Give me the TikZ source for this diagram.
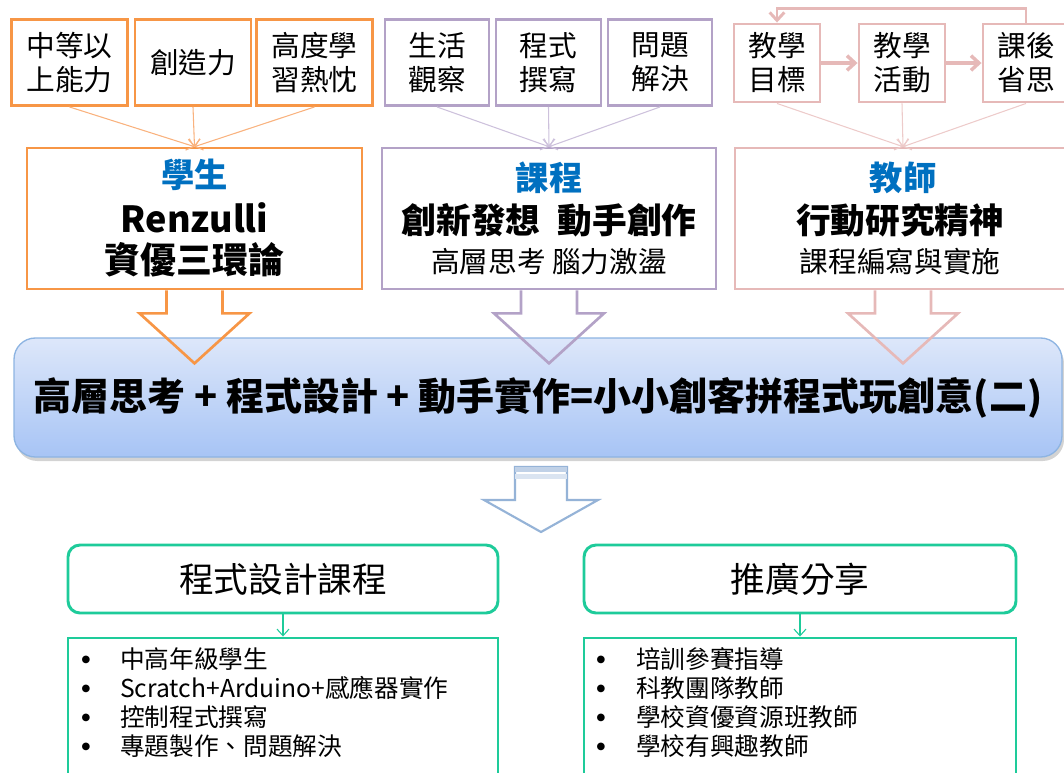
\documentclass[tikz,border=0pt]{standalone}
\usepackage{fontspec}
\setmainfont{Noto Sans CJK TC}
\newfontfamily\bulletfont{DejaVu Sans}
\usetikzlibrary{arrows.meta,shadows,calc}
\definecolor{cOrange}{HTML}{F79646}
\definecolor{cOrangeL}{HTML}{F9B27E}
\definecolor{cPurple}{HTML}{B3A2C7}
\definecolor{cPurpleL}{HTML}{CDC1DC}
\definecolor{cPink}{HTML}{E6B9B8}
\definecolor{cPinkL}{HTML}{EDCBCA}
\definecolor{cTitle}{HTML}{0070C0}
\definecolor{cGreen}{HTML}{1ECB9A}
\definecolor{cBlueB}{HTML}{8DB4E2}
\definecolor{cBlueT}{HTML}{DDE7FA}
\definecolor{cBlueBot}{HTML}{A7C4F5}
\definecolor{cBArrow}{HTML}{95B3D7}
\begin{document}
\begin{tikzpicture}[x=0.75pt,y=-0.75pt,
  sz/.style 2 args={minimum width=#1*0.75pt, minimum height=#2*0.75pt},
  topbox/.style={draw=#1, line width=2.2pt, fill=white, align=center, inner sep=0pt,
     font=\fontsize{21.5}{25.5}\selectfont},
  midbox/.style={draw=#1, line width=2pt, fill=white, inner sep=0pt},
  ttl/.style={text=cTitle, font=\fontsize{25}{30}\selectfont\bfseries},
  bigb/.style={font=\fontsize{26}{30}\selectfont\bfseries},
  sub/.style={font=\fontsize{21.5}{26}\selectfont},
  thinarr/.style={draw=#1, line width=0.8pt, -{Straight Barb[length=5pt,width=9pt]}},
  blockarrow/.style={draw=#1, line width=2pt, line join=miter},
  greenhead/.style={draw=cGreen, line width=2.2pt, rounded corners=9pt, fill=white,
     font=\fontsize{26}{30}\selectfont},
  greenlist/.style={draw=cGreen, line width=2.2pt, fill=white},
  item/.style={anchor=west, inner sep=0pt, font=\fontsize{18.5}{22}\selectfont},
  bul/.style={inner sep=0pt, font=\bulletfont\fontsize{7.5}{9}\selectfont},
]
\useasboundingbox (0,0) rectangle (1064,772);
\begin{scope}
\clip (0,0) rectangle (1064,772);

% ---------- top boxes ----------
\node[topbox=cOrange, sz={116}{86}] (ob1) at (69.5,62.5) {中等以\\上能力};
\node[topbox=cOrange, sz={116}{86}] (ob2) at (193,62.5) {創造力};
\node[topbox=cOrange, sz={116}{86}] (ob3) at (314.5,62.5) {高度學\\習熱忱};

\node[topbox=cPurple, sz={104}{86}] (pb1) at (437,62.5) {生活\\觀察};
\node[topbox=cPurple, sz={105}{86}] (pb2) at (548.5,62.5) {程式\\撰寫};
\node[topbox=cPurple, sz={104}{86}] (pb3) at (660,62.5) {問題\\解決};

\node[topbox=cPink, sz={86}{78}] (kb1) at (777,63) {教學\\目標};
\node[topbox=cPink, sz={86}{78}] (kb2) at (902,63) {教學\\活動};
\node[topbox=cPink, sz={86}{78}] (kb3) at (1026,63) {課後\\省思};

\draw[draw=cPink, line width=2.6pt, -{Straight Barb[length=6pt,width=11pt]}] (kb1.east) -- (kb2.west);
\draw[draw=cPink, line width=2.6pt, -{Straight Barb[length=6pt,width=11pt]}] (kb2.east) -- (kb3.west);
\draw[draw=cPink, line width=2.2pt, -{Straight Barb[length=6pt,width=11pt]}] (kb3.north) -- ++(0,-14) -| (kb1.north);

% ---------- middle boxes ----------
\node[midbox=cOrange, sz={335}{141}] (om) at (194.5,218.5) {};
\node[midbox=cPurple, sz={334}{141}] (pm) at (549,218.5) {};
\node[midbox=cPink, sz={336}{141}] (km) at (903,218.5) {};

\node[ttl] (omt) at (194.5,175) {學生};
\node[bigb, font=\fontsize{27}{30}\selectfont\bfseries] (oma) at (194.5,218) {Renzulli};
\node[bigb, font=\fontsize{27}{30}\selectfont\bfseries] (omb) at (194.5,260) {資優三環論};

\node[ttl] (pmt) at (549,178) {課程};
\node[bigb] (pma) at (549,220) {創新發想\hspace{0.5em}動手創作};
\node[sub] (pmb) at (549,262) {高層思考 腦力激盪};

\node[ttl] (kmt) at (903,178) {教師};
\node[bigb] (kma) at (900,220) {行動研究精神};
\node[sub] (kmb) at (900,262) {課程編寫與實施};

\foreach \b in {ob1,ob2,ob3} \draw[thinarr=cOrangeL] (\b.south) -- (om.north);
\foreach \b in {pb1,pb2,pb3} \draw[thinarr=cPurpleL] (\b.south) -- (pm.north);
\foreach \b in {kb1,kb2,kb3} \draw[thinarr=cPinkL] (\b.south) -- (km.north);

% ---------- main blue box ----------
\node[draw=cBlueB, line width=1pt, rounded corners=16pt, top color=cBlueT, bottom color=cBlueBot,
      drop shadow={shadow xshift=1.5pt, shadow yshift=-3pt, opacity=0.35},
      sz={1048}{119}, font=\fontsize{28.5}{32}\selectfont\bfseries] (main) at (538,397.5)
      {高層思考 + 程式設計 + 動手實作=小小創客拼程式玩創意(二)};

% block arrows into main box
\foreach \n/\c in {om/cOrange, pm/cPurple, km/cPink}
  \draw[blockarrow=\c] ($(\n.south)+(-28,0)$) -- ++(0,23) -- ++(-27,0)
     -- ($(\n.south)+(0,73)$) -- ($(\n.south)+(55,23)$) -- ++(-27,0) -- ++(0,-23);

% ---------- blue down arrow ----------
\coordinate (ba) at (541,467);
\draw[draw=cBArrow, line width=1.6pt, fill=white, line join=miter]
  ($(ba)+(-26,0)$) -- ++(0,33) -- ++(-31,0) -- ($(ba)+(0,65)$) -- ($(ba)+(57,33)$) -- ++(-31,0) -- ++(0,-33) -- cycle;
\fill[cBArrow!60] ($(ba)+(-26,0)$) rectangle ($(ba)+(26,5)$);
\fill[cBArrow!35] ($(ba)+(-26,7)$) rectangle ($(ba)+(26,12)$);

% ---------- bottom section ----------
\node[greenhead, sz={430}{68}] (lh) at (283,579) {程式設計課程};
\node[greenhead, sz={432}{68}] (rh) at (800,579) {推廣分享};
\node[greenlist, sz={430}{160}] (ll) at (283,718) {};
\node[greenlist, sz={432}{160}] (rl) at (800,718) {};
\draw[thinarr=cGreen] (lh.south) -- (ll.north);
\draw[thinarr=cGreen] (rh.south) -- (rl.north);

\foreach \t [count=\i] in {中高年級學生, Scratch+Arduino+感應器實作, 控制程式撰寫, 專題製作、問題解決}{
  \node[bul] (lb\i) at (86,631+29*\i) {●};
  \node[item] (lt\i) at (120,630+29*\i) {\t};
}
\foreach \t [count=\i] in {培訓參賽指導, 科教團隊教師, 學校資優資源班教師, 學校有興趣教師}{
  \node[bul] (rb\i) at (601,631+29*\i) {●};
  \node[item] (rt\i) at (636,630+29*\i) {\t};
}
\end{scope}
\end{tikzpicture}
\end{document}
